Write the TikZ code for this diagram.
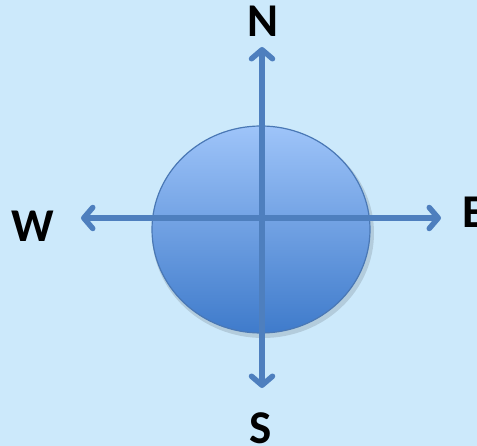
\documentclass[tikz,border=0pt]{standalone}
\usepackage{fontspec}
\setmainfont{Carlito}
\newfontfamily\lblfont{Carlito Bold}
\usetikzlibrary{arrows.meta,shadows}
\definecolor{bgc}{HTML}{CCE9FB}
\definecolor{arr}{HTML}{4E7FBE}
\definecolor{topc}{HTML}{9EC4F9}
\definecolor{botc}{HTML}{3F7BCB}
\definecolor{rim}{HTML}{4A78B5}
\tikzset{
  compass/.style={draw=arr, line width=5.5pt, {Straight Barb[length=9pt,width=21pt,round]}-{Straight Barb[length=9pt,width=21pt,round]}},
  lbl/.style={font=\lblfont\fontsize{47}{49}\selectfont, text=black, inner sep=0pt, anchor=base}
}
\begin{document}
\begin{tikzpicture}[x=1pt,y=-1pt]
\fill[bgc] (0,0) rectangle (477,446);
\useasboundingbox (0,0) rectangle (477,446);
\fill[black, opacity=0.12] (263,233) ellipse [x radius=111, y radius=105];
\shade[top color=topc, bottom color=botc, draw=rim, line width=1.2pt] (261,229.5) ellipse [x radius=109, y radius=103.5];
\coordinate (nt) at (262,47);
\coordinate (sb) at (262,388);
\coordinate (wl) at (81,218);
\coordinate (er) at (441,218);
\draw[compass] (sb) -- (nt);
\draw[compass] (wl) -- (er);
\node[lbl] (N) at (262.5,36.5) {N};
\node[lbl] (S) at (261,443) {S};
\node[lbl] (W) at (33,242) {W};
\node[lbl, anchor=base west] (E) at (462,228) {E};
\end{tikzpicture}
\end{document}
